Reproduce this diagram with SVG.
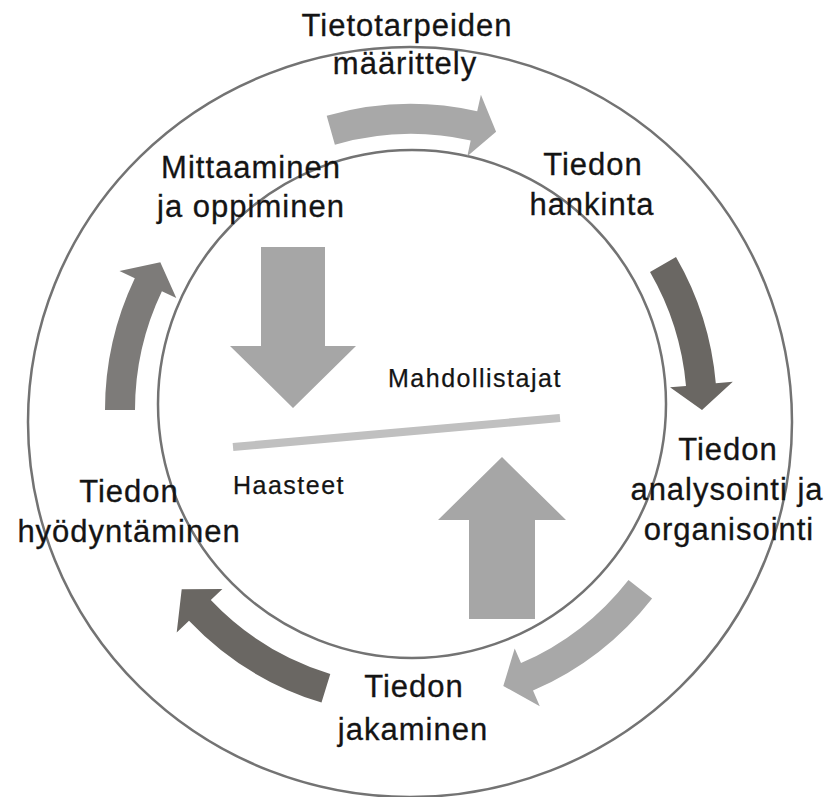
<svg xmlns="http://www.w3.org/2000/svg" width="827" height="797" viewBox="0 0 827 797">
<style>
.ring{fill:none;stroke:#737373;stroke-width:2.5}
.lbl{font-family:"Liberation Sans",Arial,Helvetica,sans-serif;font-size:31px;letter-spacing:1px;fill:#141414;stroke:#141414;stroke-width:0.3;text-anchor:middle}
.sm{font-family:"Liberation Sans",Arial,Helvetica,sans-serif;font-size:25px;letter-spacing:1.5px;fill:#141414;stroke:#141414;stroke-width:0.25}
.light{fill:#a8a8a8}
.dark{fill:#6a6763}
.mid{fill:#7d7b79}
.big{fill:#a6a6a6}
</style>
<rect width="827" height="797" fill="#ffffff"/>
<g id="rings">
<ellipse class="ring" cx="410" cy="422" rx="382" ry="375"/>
<circle class="ring" cx="412" cy="404" r="254"/>
</g>
<g id="connectors">
<path class="light" d="M326.7,115.8 A306,306 0 0 1 477.2,111.3 L480.9,94.7 L496.1,131.7 L467.3,156.2 L470.7,140.5 A276,276 0 0 0 334.9,144.7 Z"/>
<path class="dark" d="M676,257 A306,306 0 0 1 715.8,383.3 L732.8,381.8 L702,410 L670,387.3 L686,385.9 A276,276 0 0 0 650,272 Z"/>
<path class="light" d="M652.1,598.4 A306,306 0 0 1 533,690.6 L539.8,706.2 L503.3,686 L514.7,648.4 L521,663.1 A276,276 0 0 0 628.5,579.9 Z"/>
<path class="dark" d="M321.5,702.6 A306,306 0 0 1 189,620.7 L176.7,632.4 L181.7,589.2 L222.4,589 L210.8,600 A276,276 0 0 0 330.3,673.9 Z"/>
<path class="mid" d="M105,410 A306,306 0 0 1 134.8,278.3 L119.5,270.9 L160.3,262.3 L176.3,298.1 L161.9,291.2 A276,276 0 0 0 135,410 Z"/>
</g>
<g id="balance">
<polygon id="down-arrow" class="big" points="261,247 325,247 325,346 356,346 293,408 230,346 261,346"/>
<polygon id="up-arrow" class="big" points="469,619 535,619 535,520 566,520 502,457 438,520 469,520"/>
<line id="scale-line" x1="233" y1="447" x2="560" y2="418" stroke="#c0c0c0" stroke-width="8"/>
</g>
<g id="node-tietotarpeiden">
<text class="lbl" x="407" y="36">Tietotarpeiden</text>
<text class="lbl" x="405" y="74">määrittely</text>
</g>
<g id="node-hankinta">
<text class="lbl" x="593" y="175">Tiedon</text>
<text class="lbl" x="592" y="215">hankinta</text>
</g>
<g id="node-analysointi">
<text class="lbl" x="728" y="460">Tiedon</text>
<text class="lbl" x="727" y="500">analysointi ja</text>
<text class="lbl" x="729" y="540">organisointi</text>
</g>
<g id="node-jakaminen">
<text class="lbl" x="414" y="697">Tiedon</text>
<text class="lbl" x="413" y="740">jakaminen</text>
</g>
<g id="node-hyodyntaminen">
<text class="lbl" x="129" y="502">Tiedon</text>
<text class="lbl" x="129" y="542">hyödyntäminen</text>
</g>
<g id="node-mittaaminen">
<text class="lbl" x="251" y="178">Mittaaminen</text>
<text class="lbl" x="251" y="217">ja oppiminen</text>
</g>
<g id="node-mahdollistajat">
<text class="sm" x="388" y="387">Mahdollistajat</text>
</g>
<g id="node-haasteet">
<text class="sm" x="233" y="494">Haasteet</text>
</g>
</svg>
